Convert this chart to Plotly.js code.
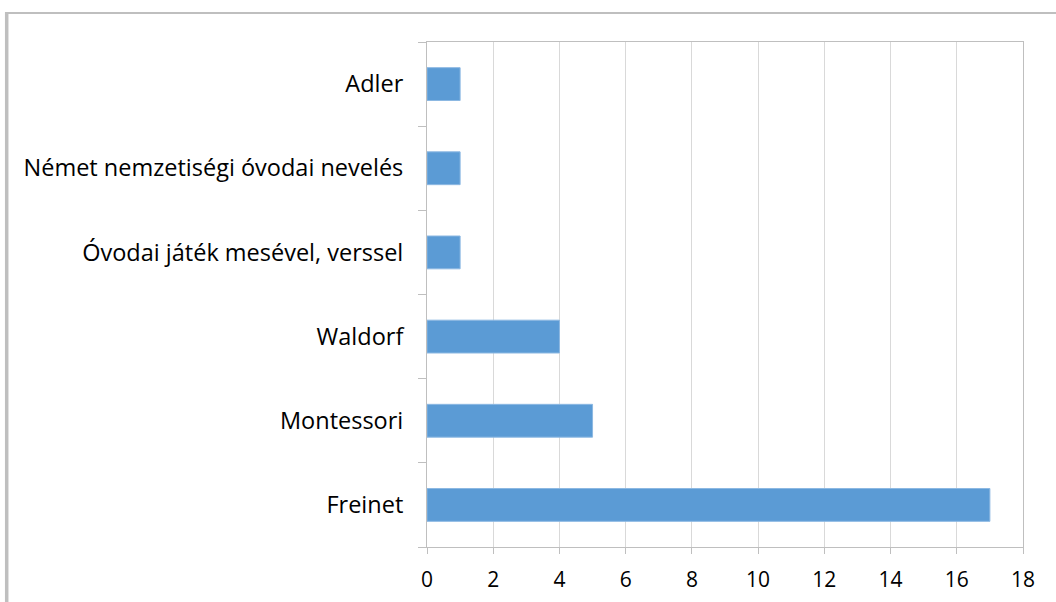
<!DOCTYPE html>
<html><head><meta charset="utf-8">
<script src="https://cdn.plot.ly/plotly-3.0.1.min.js"></script>
<style>html,body{margin:0;padding:0;background:#fff}#chart{width:1056px;height:602px}</style>
</head><body><div id="chart"></div>
<script>
const categories = ["Freinet", "Montessori", "Waldorf", "Óvodai játék mesével, verssel", "Német nemzetiségi óvodai nevelés", "Adler"];
const values = [17, 5, 4, 1, 1, 1];
const xTicks = [0, 2, 4, 6, 8, 10, 12, 14, 16, 18];

const yFont = {family: "Open Sans, sans-serif", size: 23.5, color: "#000"};
const xFont = {family: "Open Sans, sans-serif", size: 21, color: "#000"};
const data = [{
  type: "bar", orientation: "h", y: categories, x: values,
  marker: {color: "#5b9bd5", line: {color: "#8cb8e2", width: 1}},
  hoverinfo: "x+y"
}];
const boundaries = categories.map((c, i) => i - 0.5).concat([categories.length - 0.5]);
const layout = {
  width: 1056, height: 602,
  margin: {l: 427, r: 33, t: 42, b: 55},
  paper_bgcolor: "#fff", plot_bgcolor: "#fff",
  bargap: 0.61,
  showlegend: false,
  font: yFont,
  xaxis: {
    range: [0, 18], tickvals: xTicks, ticktext: xTicks.map(String),
    showgrid: true, gridcolor: "#d9d9d9", gridwidth: 1,
    showline: true, linecolor: "#bfbfbf", linewidth: 1, mirror: true,
    ticks: "outside", ticklen: 6, tickcolor: "#bfbfbf", tickwidth: 1,
    tickfont: xFont, ticklabelstandoff: 8, zeroline: false, fixedrange: true
  },
  yaxis: {
    type: "category", categoryorder: "array", categoryarray: categories,
    tickson: "boundaries", showgrid: false,
    showline: true, linecolor: "#bfbfbf", linewidth: 1, mirror: true,
    ticks: "outside", ticklen: 8, tickcolor: "#bfbfbf", tickwidth: 1,
    tickfont: yFont, ticklabelstandoff: 18, zeroline: false, fixedrange: true
  },
  xaxis2: {
    overlaying: "x", side: "bottom", anchor: "y", range: [0, 18], tickvals: xTicks,
    showticklabels: false, showgrid: false, showline: false, zeroline: false,
    ticks: "inside", ticklen: 6, tickcolor: "#bfbfbf", tickwidth: 1, fixedrange: true
  },
  yaxis2: {
    overlaying: "y", side: "left", anchor: "x", range: [-0.5, categories.length - 0.5], tickvals: boundaries,
    showticklabels: false, showgrid: false, showline: false, zeroline: false,
    ticks: "inside", ticklen: 8, tickcolor: "#bfbfbf", tickwidth: 1, fixedrange: true
  },
  shapes: [
    {type: "line", xref: "paper", yref: "paper", x0: (5 - 427) / 596, x1: (1060 - 427) / 596,
     y0: (547 - 13) / 505, y1: (547 - 13) / 505, line: {color: "#bfbfbf", width: 2}},
    {type: "line", xref: "paper", yref: "paper", x0: (6.7 - 427) / 596, x1: (6.7 - 427) / 596,
     y0: (547 - 12) / 505, y1: (547 - 610) / 505, line: {color: "#bfbfbf", width: 3.5}}
  ]
};
Plotly.newPlot("chart", data, layout, {displayModeBar: false, staticPlot: true});
</script></body></html>
